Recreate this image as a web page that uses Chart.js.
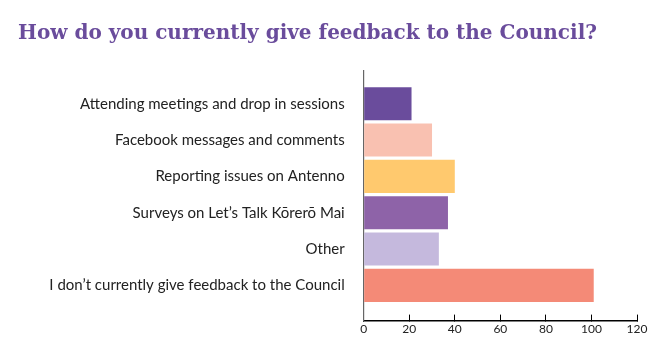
<!DOCTYPE html>
<html>
<head>
<meta charset="utf-8">
<script src="https://cdn.jsdelivr.net/npm/chart.js@4/dist/chart.umd.min.js"></script>
<style>
  html, body { margin: 0; padding: 0; background: #fff; }
  #wrap { position: relative; width: 667px; height: 364px; }
</style>
</head>
<body>
<div id="wrap"><canvas id="c" width="667" height="364"></canvas></div>
<script>
const titleText = 'How do you currently give feedback to the Council?';
const categories = [
  'Attending meetings and drop in sessions',
  'Facebook messages and comments',
  'Reporting issues on Antenno',
  'Surveys on Let\u2019s Talk K\u014drer\u014d Mai',
  'Other',
  'I don\u2019t currently give feedback to the Council'
];
const counts = [21, 30, 40, 37, 33, 101];
const barColors = ['#6a4c9c', '#f9c1b1', '#ffc96e', '#8e63a8', '#c5b9dd', '#f48a77'];
const xTicks = [0, 20, 40, 60, 80, 100, 120];

const points = counts.map((v, i) => ({ x: v, y: i }));

new Chart(document.getElementById('c'), {
  type: 'bar',
  data: {
    datasets: [{
      data: points,
      backgroundColor: barColors,
      borderWidth: 0,
      barPercentage: 1,
      categoryPercentage: 0.91
    }]
  },
  options: {
    indexAxis: 'y',
    responsive: false,
    animation: false,
    layout: { padding: { left: 18, right: 30, top: 22, bottom: 21 } },
    plugins: {
      legend: { display: false },
      tooltip: { enabled: false },
      title: {
        display: true,
        text: titleText,
        align: 'start',
        color: '#6a4c9c',
        font: { family: 'DejaVu Serif', size: 20, weight: 'bold' },
        padding: { top: 0, bottom: 25 }
      }
    },
    scales: {
      x: {
        type: 'linear',
        min: 0,
        max: 120,
        afterBuildTicks: s => { s.ticks = xTicks.map(v => ({ value: v })); },
        grid: { display: true, drawOnChartArea: false, drawTicks: true, tickLength: -6, color: '#000', lineWidth: 1 },
        border: { display: true, color: '#000', width: 1.5 },
        ticks: { color: '#222', font: { family: 'Lato', size: 12 }, padding: 7, maxRotation: 0 }
      },
      y: {
        type: 'linear',
        reverse: true,
        offset: false,
        min: -0.9,
        max: 5.97,
        afterBuildTicks: s => { s.ticks = categories.map((_, i) => ({ value: i })); },
        afterFit: s => { s.width = 345.7; },
        grid: { display: false, drawTicks: false },
        border: { display: true, color: '#666', width: 1.2 },
        ticks: {
          color: '#222',
          font: { family: 'Lato', size: 15 },
          padding: 19,
          callback: v => categories[v]
        }
      }
    }
  }
});
</script>
</body>
</html>
